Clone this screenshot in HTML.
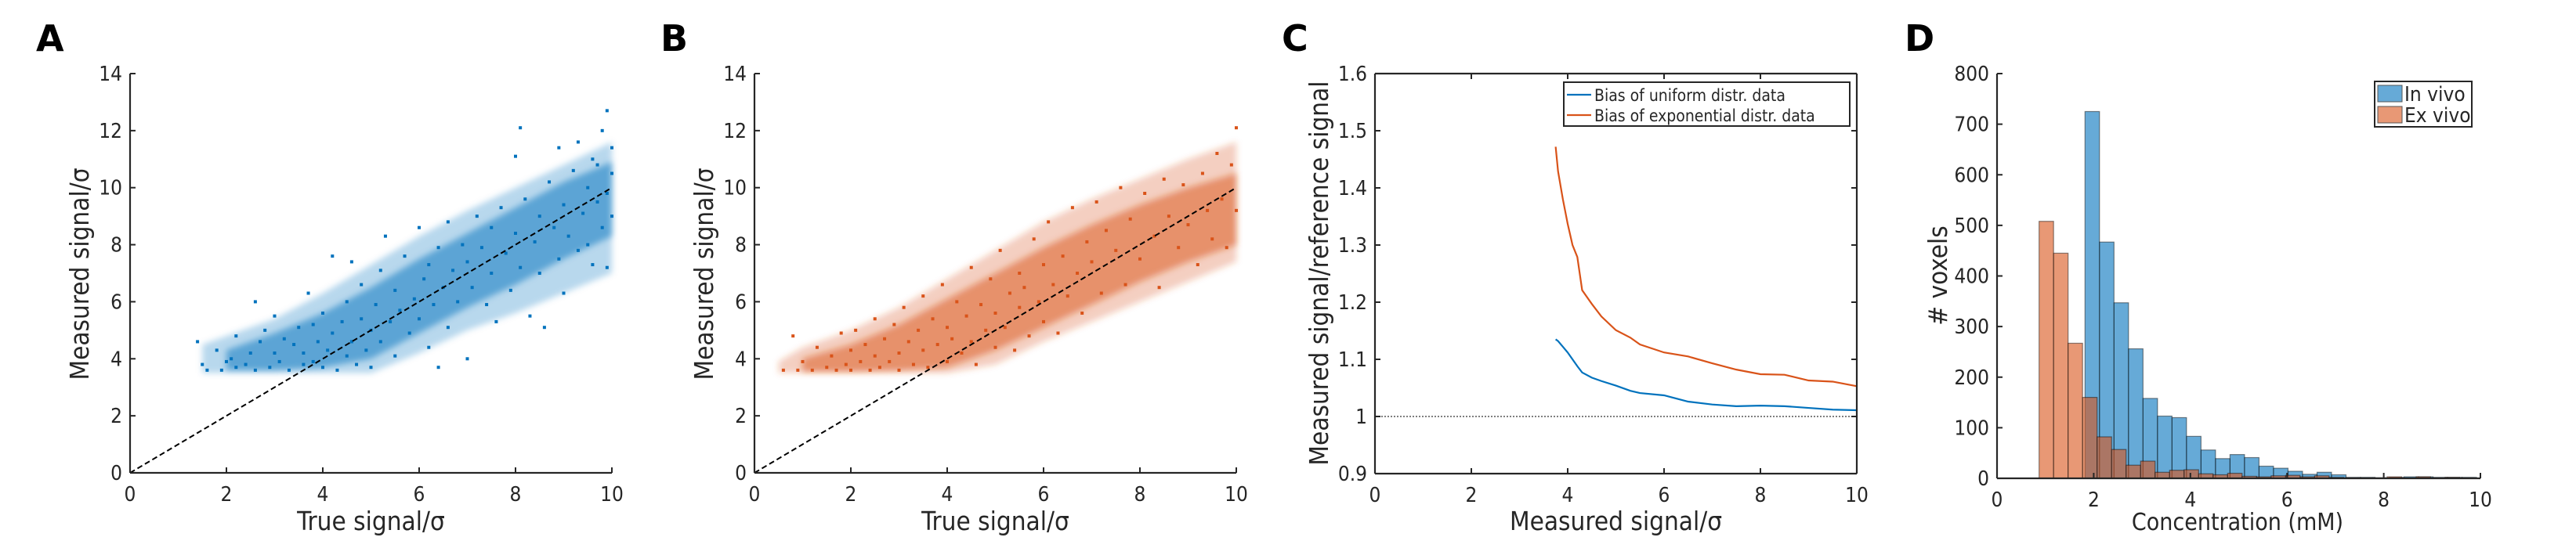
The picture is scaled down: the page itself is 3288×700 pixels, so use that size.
<!DOCTYPE html>
<html><head><meta charset="utf-8">
<style>
html,body{margin:0;padding:0;background:#fff;}
svg{display:block;}
text{font-family:"DejaVu Sans Condensed","DejaVu Sans","Liberation Sans",sans-serif;fill:#262626;}
.pl{font-family:"DejaVu Sans","Liberation Sans",sans-serif;font-weight:bold;font-size:46px;fill:#000;}
</style></head>
<body>
<svg id="fig" width="3288" height="700" viewBox="0 0 3288 700" xmlns="http://www.w3.org/2000/svg">
<defs><filter id="soft" x="-10%" y="-10%" width="120%" height="120%"><feGaussianBlur stdDeviation="4"/></filter></defs>
</svg>
<script>
// ---- Panel A data ----
const aXs=[1.4,1.5,1.6,1.8,1.9,2.0,2.1,2.2,2.2,2.4,2.5,2.6,2.6,2.7,2.8,2.9,3.0,3.0,3.1,3.2,3.3,3.4,3.5,3.6,3.6,3.7,3.8,3.8,3.9,4.0,4.0,4.1,4.2,4.2,4.3,4.4,4.5,4.5,4.6,4.6,4.7,4.8,4.8,4.9,5.0,5.0,5.1,5.2,5.2,5.3,5.4,5.5,5.5,5.6,5.7,5.8,5.9,6.0,6.0,6.1,6.2,6.2,6.3,6.4,6.4,6.5,6.6,6.6,6.7,6.8,6.9,7.0,7.0,7.1,7.2,7.3,7.4,7.5,7.5,7.6,7.7,7.8,7.9,8.0,8.0,8.1,8.1,8.2,8.3,8.4,8.5,8.5,8.6,8.7,8.8,8.9,8.9,9.0,9.0,9.1,9.2,9.3,9.3,9.4,9.5,9.5,9.6,9.6,9.7,9.7,9.8,9.8,9.9,9.9,9.9,10.0,10.0,10.0];
const aYs=[4.6,3.8,3.6,4.3,3.6,3.9,4.0,3.7,4.8,3.8,4.2,6.0,3.6,4.6,5.0,3.7,4.2,5.5,3.9,4.7,3.6,4.5,5.1,3.8,4.2,6.3,3.9,5.2,4.6,3.7,5.6,4.3,7.6,4.9,3.6,5.3,4.1,6.0,7.4,4.6,3.8,5.4,6.6,4.3,5.0,3.7,5.9,4.6,7.1,8.3,5.3,4.1,6.4,5.7,7.6,4.9,6.1,5.4,8.6,6.8,4.4,7.3,5.9,3.7,7.9,6.5,5.1,8.8,7.1,6.0,8.0,4.0,7.4,6.5,9.0,7.9,5.9,8.6,7.0,5.3,9.3,7.7,6.4,8.4,11.1,7.2,12.1,9.6,5.5,8.1,9.0,7.0,5.1,10.2,8.6,7.5,11.4,9.4,6.3,8.3,10.6,7.8,11.6,9.1,10.0,8.0,7.3,11.0,9.5,10.8,8.6,12.0,9.8,7.2,12.7,10.5,9.0,11.4];
const aBandX=[1.5,2,3,4,5,6,7,8,9,10];
const aOuterLo=[3.5,3.5,3.5,3.5,3.5,4.2,5.0,5.6,6.3,7.0];
const aOuterHi=[4.5,4.8,5.4,6.3,7.3,8.3,9.2,10.0,10.8,11.6];
const aCoreLo=[3.6,3.6,3.6,3.7,4.0,4.9,5.8,6.6,7.5,8.3];
const aCoreHi=[3.9,4.3,4.9,5.6,6.5,7.5,8.4,9.3,10.2,10.9];
// ---- Panel B data ----
const bXs=[0.6,0.8,0.9,1.0,1.2,1.3,1.5,1.6,1.7,1.8,1.9,2.0,2.0,2.1,2.2,2.3,2.4,2.5,2.5,2.6,2.7,2.8,2.9,3.0,3.0,3.1,3.2,3.3,3.4,3.5,3.5,3.6,3.7,3.8,3.9,4.0,4.0,4.1,4.2,4.3,4.4,4.5,4.5,4.6,4.7,4.8,4.9,5.0,5.0,5.1,5.2,5.3,5.4,5.5,5.5,5.6,5.7,5.8,5.9,6.0,6.0,6.1,6.2,6.3,6.4,6.5,6.6,6.7,6.8,6.9,7.0,7.1,7.2,7.3,7.5,7.6,7.7,7.8,8.0,8.1,8.3,8.4,8.5,8.6,8.8,8.9,9.0,9.2,9.3,9.4,9.5,9.6,9.7,9.8,9.9,10.0,10.0];
const bYs=[3.6,4.8,3.6,3.9,3.6,4.4,3.7,4.1,3.6,4.9,3.8,4.3,3.6,5.0,3.9,4.5,3.6,4.1,5.4,3.7,4.7,3.9,5.2,4.2,3.6,5.8,4.6,3.8,5.0,4.3,6.2,3.7,5.4,4.5,6.6,3.9,5.1,4.7,6.0,4.2,5.5,7.2,4.6,3.8,5.9,5.0,6.8,4.4,5.6,7.8,5.1,6.3,4.3,5.8,7.0,6.5,4.8,8.2,6.0,7.3,5.3,8.8,6.6,4.9,7.6,6.2,9.3,7.0,5.6,8.1,7.4,9.5,6.3,8.5,7.8,10.0,6.6,8.9,7.5,9.8,8.3,6.5,10.3,9.0,7.9,10.1,8.7,7.3,10.5,9.2,8.2,11.2,9.6,7.9,10.8,12.1,9.2];
const bBandX=[0.5,1,2,3,4,5,6,7,8,9,10];
const bOuterLo=[3.5,3.5,3.5,3.5,3.5,3.8,4.6,5.3,6.0,6.7,7.4];
const bOuterHi=[3.9,4.4,5.0,5.8,6.8,7.8,8.8,9.6,10.3,11.0,11.6];
const bCoreLo=[3.55,3.55,3.55,3.6,3.7,4.3,5.1,5.9,6.7,7.4,8.0];
const bCoreHi=[3.7,4.0,4.5,5.2,6.1,7.0,7.9,8.7,9.4,10.0,10.5];
// ---- Panel C data ----
const cBlueX=[3.75,3.8,3.9,4.0,4.1,4.2,4.3,4.5,4.7,5.0,5.3,5.5,6.0,6.5,7.0,7.5,8.0,8.5,9.0,9.5,10.0];
const cBlueY=[1.135,1.132,1.122,1.112,1.100,1.088,1.077,1.068,1.062,1.054,1.045,1.041,1.037,1.026,1.021,1.018,1.019,1.018,1.015,1.012,1.011];
const cRedX=[3.75,3.8,3.9,4.0,4.1,4.2,4.3,4.5,4.7,5.0,5.3,5.5,6.0,6.5,7.0,7.5,8.0,8.5,9.0,9.5,10.0];
const cRedY=[1.472,1.429,1.38,1.337,1.30,1.279,1.221,1.197,1.175,1.151,1.138,1.126,1.112,1.105,1.093,1.082,1.074,1.073,1.063,1.061,1.053];
// ---- Panel D data ----
const dBinW=0.3;
const dInStart=1.82;
const dInCounts=[725,467,347,256,158,123,120,83,56,39,47,41,24,20,14,8,12,7,2,2,1,2,3,3,2,2,2];
const dExStart=0.87;
const dExCounts=[508,445,267,160,82,57,26,34,12,16,17,9,7,10,4,3,5,6,3,5,2,1,1,1,3,1,3,1,2,1];
const tick2=[0,2,4,6,8,10];
const aYTicks=[0,2,4,6,8,10,12,14];
const cYTicks=[0.9,1,1.1,1.2,1.3,1.4,1.5,1.6];
const cYLabels=['0.9','1','1.1','1.2','1.3','1.4','1.5','1.6'];
const dYTicks=[0,100,200,300,400,500,600,700,800];

const NS='http://www.w3.org/2000/svg';
const fig=document.getElementById('fig');
function mk(tag,attrs,parent){const e=document.createElementNS(NS,tag);for(const k in attrs)e.setAttribute(k,attrs[k]);(parent||fig).appendChild(e);return e;}
function lin(d0,d1,r0,r1){return v=>r0+(v-d0)*(r1-r0)/(d1-d0);}
const AX='#262626';

function txt(x,y,s,size,anchor,parent,rot){const t=mk('text',{x:x,y:y,'font-size':size,'text-anchor':anchor||'middle'},parent);if(rot)t.setAttribute('transform','rotate(-90 '+x+' '+y+')');t.textContent=s;return t;}

function axes(g,X,Y,xt,xl,yt,yl,box,x0,x1,y0,y1){
  mk('line',{x1:x0,y1:y0,x2:x1,y2:y0,stroke:AX,'stroke-width':2.2},g);
  mk('line',{x1:x0,y1:y0,x2:x0,y2:y1,stroke:AX,'stroke-width':2.2},g);
  if(box){mk('line',{x1:x0,y1:y1,x2:x1,y2:y1,stroke:AX,'stroke-width':2.2},g);mk('line',{x1:x1,y1:y0,x2:x1,y2:y1,stroke:AX,'stroke-width':2.2},g);}
  xt.forEach((v,i)=>{const px=X(v);mk('line',{x1:px,y1:y0,x2:px,y2:y0-7,stroke:AX,'stroke-width':2},g);if(box)mk('line',{x1:px,y1:y1,x2:px,y2:y1+7,stroke:AX,'stroke-width':2},g);
    const t=txt(px,y0+36,xl[i],26,'middle',g);});
  yt.forEach((v,i)=>{const py=Y(v);mk('line',{x1:x0,y1:py,x2:x0+7,y2:py,stroke:AX,'stroke-width':2},g);if(box)mk('line',{x1:x1,y1:py,x2:x1-7,y2:py,stroke:AX,'stroke-width':2},g);
    const t=txt(x0-10,py+9,yl[i],26,'end',g);});
}
function band(g,X,Y,bx,lo,hi,fill,op){
  let d='M'+bx.map((v,i)=>X(v)+','+Y(hi[i])).join('L');
  for(let i=bx.length-1;i>=0;i--)d+='L'+X(bx[i])+','+Y(lo[i]);
  return mk('path',{d:d+'Z',fill:fill,'fill-opacity':op,filter:'url(#soft)'},g);
}
function scatterPanel(name,off,xs,ys,bx,olo,ohi,clo,chi,color,label){
  const g=mk('g',{});
  
  
  const x0=166+off,x1=781+off,y0=604,y1=94;
  const X=lin(0,10,x0,x1),Y=lin(0,14,y0,y1);
  const o=band(g,X,Y,bx,olo,ohi,color,0.28);
  
  
  const c=band(g,X,Y,bx.slice(1),clo.slice(1),chi.slice(1),color,0.5);
  
  
  xs.forEach((v,i)=>{const p=mk('rect',{x:X(v)-2,y:Y(ys[i])-2,width:4,height:4,fill:color},g);
    
    });
  const dl=mk('line',{x1:X(0),y1:Y(0),x2:X(10),y2:Y(10),stroke:'#000','stroke-width':2,'stroke-dasharray':'7,4'},g);
  
  
  axes(g,X,Y,tick2,tick2.map(String),aYTicks,aYTicks.map(String),false,x0,x1,y0,y1);
  const xt=txt((x0+x1)/2,677,'True signal/σ',33,'middle',g);
  
  
  const yt=txt(off+113,350,'Measured signal/σ',33,'middle',g,true);
  
  
  const pl=mk('text',{x:off+46,y:65,class:'pl'},g);pl.textContent=label;
  
  
}
scatterPanel('panel-a-uniform-scatter',0,aXs,aYs,aBandX,aOuterLo,aOuterHi,aCoreLo,aCoreHi,'#0072BD','A');
scatterPanel('panel-b-exponential-scatter',797,bXs,bYs,bBandX,bOuterLo,bOuterHi,bCoreLo,bCoreHi,'#D95319','B');

// ---- Panel C ----
(function(){
  const g=mk('g',{});
  
  
  const x0=1755,x1=2370,y0=605,y1=94;
  const X=lin(0,10,x0,x1),Y=lin(0.9,1.6,y0,y1);
  const ref=mk('line',{x1:x0,y1:Y(1),x2:x1,y2:Y(1),stroke:'#555','stroke-width':1.5,'stroke-dasharray':'2,2'},g);
  
  
  const lb=mk('polyline',{points:cBlueX.map((v,i)=>X(v)+','+Y(cBlueY[i])).join(' '),fill:'none',stroke:'#0072BD','stroke-width':2.2},g);
  
  
  const lr=mk('polyline',{points:cRedX.map((v,i)=>X(v)+','+Y(cRedY[i])).join(' '),fill:'none',stroke:'#D95319','stroke-width':2.2},g);
  
  
  axes(g,X,Y,tick2,tick2.map(String),cYTicks,cYLabels,true,x0,x1,y0,y1);
  const xt=txt((x0+x1)/2,677,'Measured signal/σ',33,'middle',g);
  
  
  const yt=txt(1695,349,'Measured signal/reference signal',33,'middle',g,true);
  
  
  const lg=mk('g',{},g);
  
  
  mk('rect',{x:1996,y:105,width:365,height:56,fill:'#fff',stroke:'#262626','stroke-width':2},lg);
  mk('line',{x1:2000,y1:121,x2:2031,y2:121,stroke:'#0072BD','stroke-width':2.2},lg);
  mk('line',{x1:2000,y1:147,x2:2031,y2:147,stroke:'#D95319','stroke-width':2.2},lg);
  const t1=txt(2035,129,'Bias of uniform distr. data',21,'start',lg);
  
  
  const t2=txt(2035,155,'Bias of exponential distr. data',21,'start',lg);
  
  
  const pl=mk('text',{x:1636,y:65,class:'pl'},g);pl.textContent='C';
  
  
})();

// ---- Panel D ----
(function(){
  const g=mk('g',{});
  
  
  const x0=2549,x1=3166,y0=611,y1=94;
  const X=lin(0,10,x0,x1),Y=lin(0,800,y0,y1);
  dInCounts.forEach((c,i)=>{const a=dInStart+i*dBinW;const r=mk('rect',{x:X(a),y:Y(c),width:X(a+dBinW)-X(a),height:y0-Y(c),fill:'#0072BD','fill-opacity':0.6,stroke:'#000','stroke-opacity':0.45,'stroke-width':1.2},g);
    
    });
  dExCounts.forEach((c,i)=>{const a=dExStart+i*dBinW;if(a+dBinW>10.01)return;const r=mk('rect',{x:X(a),y:Y(c),width:X(a+dBinW)-X(a),height:y0-Y(c),fill:'#D95319','fill-opacity':0.6,stroke:'#000','stroke-opacity':0.45,'stroke-width':1.2},g);
    
    });
  axes(g,X,Y,tick2,tick2.map(String),dYTicks,dYTicks.map(String),false,x0,x1,y0,y1);
  const xt=txt(2856,677,'Concentration (mM)',30,'middle',g);
  
  
  const yt=txt(2485,352,'# voxels',33,'middle',g,true);
  
  
  const lg=mk('g',{},g);
  
  
  mk('rect',{x:3031,y:104,width:124,height:58,fill:'#fff',stroke:'#262626','stroke-width':2},lg);
  mk('rect',{x:3035,y:109,width:31,height:21,fill:'#0072BD','fill-opacity':0.6,stroke:'#555'},lg);
  mk('rect',{x:3035,y:136,width:31,height:21,fill:'#D95319','fill-opacity':0.6,stroke:'#555'},lg);
  const t1=txt(3069,129,'In vivo',26,'start',lg);
  
  
  const t2=txt(3069,156,'Ex vivo',26,'start',lg);
  
  
  const pl=mk('text',{x:2431,y:65,class:'pl'},g);pl.textContent='D';
  
  
})();
</script>
</body></html>
